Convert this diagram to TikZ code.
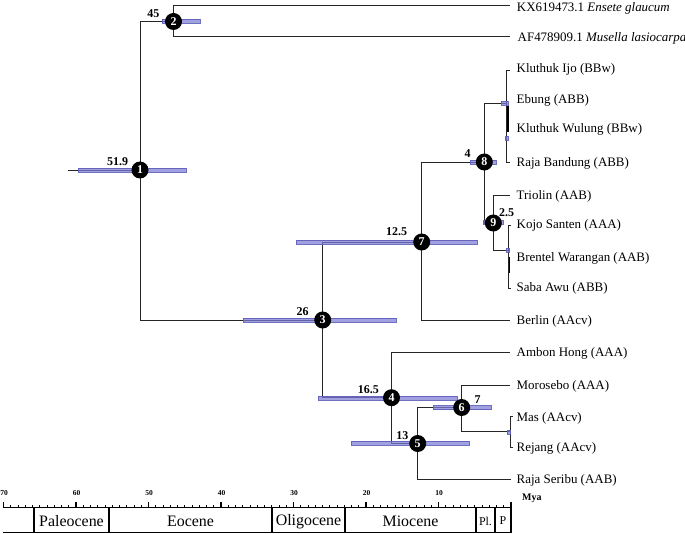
\documentclass[tikz,border=0pt]{standalone}
\usepackage{fontspec}
\setmainfont{Liberation Serif}
\pgfdeclarelayer{bg}
\pgfdeclarelayer{mid}
\pgfsetlayers{bg,mid,main}
\definecolor{hpdfill}{RGB}{125,125,215}
\definecolor{hpdline}{RGB}{95,95,185}
\begin{document}
\begin{tikzpicture}[x=1bp,y=-1bp,
  br/.style={line width=0.8bp, draw=black!85},
  thk/.style={line width=1.6bp, draw=black},
  hpd/.style={fill=hpdfill, draw=hpdline, line width=0.4bp, fill opacity=0.72, draw opacity=0.9},
  nd/.style={circle, fill=black, text=white, inner sep=0pt, minimum size=17bp, font=\fontsize{12}{12}\selectfont\bfseries},
  age/.style={font=\fontsize{12}{12}\selectfont\bfseries, inner sep=0pt},
  tip/.style={anchor=base west, font=\fontsize{13}{13}\selectfont, inner sep=0pt},
  epoch/.style={font=\fontsize{16}{16}\selectfont, inner sep=0pt},
  small/.style={font=\fontsize{12}{12}\selectfont, inner sep=0pt},
  axlab/.style={font=\fontsize{7.5}{7.5}\selectfont\bfseries, inner sep=0pt},
  axis/.style={line width=1.1bp, draw=black}]
\useasboundingbox (0,0) rectangle (685,534);

% ---------- internal nodes ----------
\node[nd] (n1) at (140,170) {1};
\node[nd] (n2) at (173.5,21.5) {2};
\node[nd] (n3) at (322.7,320) {3};
\node[nd] (n4) at (391.5,397.7) {4};
\node[nd] (n5) at (417.7,443.5) {5};
\node[nd] (n6) at (461.7,407.5) {6};
\node[nd] (n7) at (421.7,242) {7};
\node[nd] (n8) at (484.3,162) {8};
\node[nd] (n9) at (493.3,223) {9};

% ---------- ages ----------
\node[age] (a1) at (117.7,161.7) {51.9};
\node[age] (a2) at (153.3,13.3) {45};
\node[age] (a3) at (302.7,311.7) {26};
\node[age] (a7) at (396.7,231.7) {12.5};
\node[age] (a8) at (467.7,154) {4};
\node[age] (a9) at (506.5,212.7) {2.5};
\node[age] (a4) at (368.3,390) {16.5};
\node[age] (a5) at (402.3,436) {13};
\node[age] (a6) at (477.7,400) {7};

% ---------- tips ----------
\coordinate (root) at (68,170);
\coordinate (t1) at (510,5);
\coordinate (t2) at (510,36);
\coordinate (t3) at (510,70);
\coordinate (t6) at (510,162);
\coordinate (t7) at (510,195);
\coordinate (t8) at (511,225);
\coordinate (t10) at (511,288);
\coordinate (t11) at (510,320);
\coordinate (t12) at (510,352.7);
\coordinate (t13) at (510,385);
\coordinate (t14) at (512.5,416.5);
\coordinate (t15) at (512.5,447);
\coordinate (t16) at (511,479);
% polytomy joints
\coordinate (pa) at (506,103.5);
\coordinate (pa1) at (506,70);
\coordinate (pa2) at (506,162);
\coordinate (pa3) at (508,106);
\coordinate (pa4) at (508,132);
\coordinate (pb) at (508.7,250);
\coordinate (pb1) at (508.7,225);
\coordinate (pb2) at (508.7,288);
\coordinate (pb3) at (509.6,257);
\coordinate (pb4) at (509.6,273);
\coordinate (pc) at (510,431.7);
\coordinate (pc1) at (510,416.5);
\coordinate (pc2) at (510,447);

\node[tip] (l1) at (516.7,11.3) {KX619473.1 \textit{Ensete glaucum}};
\node[tip] (l2) at (517.5,41.3) {AF478909.1 \textit{Musella lasiocarpa}};
\node[tip] (l3) at (516.5,72.8) {Kluthuk Ijo (BBw)};
\node[tip] (l4) at (516.5,103.3) {Ebung (ABB)};
\node[tip] (l5) at (516.5,132.8) {Kluthuk Wulung (BBw)};
\node[tip] (l6) at (516.5,166.3) {Raja Bandung (ABB)};
\node[tip] (l7) at (516.5,199.3) {Triolin (AAB)};
\node[tip] (l8) at (516.5,228.8) {Kojo Santen (AAA)};
\node[tip] (l9) at (516.5,261.3) {Brentel Warangan (AAB)};
\node[tip] (l10) at (516.5,291.3) {Saba Awu (ABB)};
\node[tip] (l11) at (516.5,324.8) {Berlin (AAcv)};
\node[tip] (l12) at (516.5,356.8) {Ambon Hong (AAA)};
\node[tip] (l13) at (516.5,389.3) {Morosebo (AAA)};
\node[tip] (l14) at (516.5,421) {Mas (AAcv)};
\node[tip] (l15) at (516.5,451.3) {Rejang (AAcv)};
\node[tip] (l16) at (516.5,483.8) {Raja Seribu (AAB)};

% ---------- branches ----------
\begin{pgfonlayer}{bg}
\draw[br] (root) -- (n1.center);
\draw[br] (n1.center) |- (n2.center);
\draw[br] (n1.center) |- (n3.center);
\draw[br] (n2.center) |- (t1);
\draw[br] (n2.center) |- (t2);
\draw[br] (n3.center) |- (n7.center);
\draw[br] (n3.center) |- (n4.center);
\draw[br] (n7.center) |- (n8.center);
\draw[br] (n7.center) |- (t11);
\draw[br] (n8.center) |- (pa);
\draw[br] (n8.center) |- (n9.center);
\draw[br] (t3) -- (pa1) -- (pa2) -- (t6);
\draw[thk] (pa3) -- (pa4);
\draw[br] (n9.center) |- (t7);
\draw[br] (n9.center) |- (pb);
\draw[br] (t8) -- (pb1) -- (pb2) -- (t10);
\draw[thk] (pb3) -- (pb4);
\draw[br] (n4.center) |- (t12);
\draw[br] (n4.center) |- (n5.center);
\draw[br] (n5.center) |- (n6.center);
\draw[br] (n5.center) |- (t16);
\draw[br] (n6.center) |- (t13);
\draw[br] (n6.center) |- (pc);
\draw[br] (t14) -- (pc1) -- (pc2) -- (t15);
\end{pgfonlayer}

% ---------- HPD bars ----------
\begin{pgfonlayer}{mid}
\draw[hpd] (78,168) rectangle (186,172);
\draw[hpd] (161.7,19.5) rectangle (200,23.5);
\draw[hpd] (242.7,318) rectangle (396,322);
\draw[hpd] (296,240) rectangle (476.7,244);
\draw[hpd] (470,160) rectangle (496,164);
\draw[hpd] (483,220) rectangle (502.7,224);
\draw[hpd] (318.3,395.7) rectangle (456.7,399.7);
\draw[hpd] (350.7,441.3) rectangle (469,445.3);
\draw[hpd] (433.3,405.5) rectangle (490.7,409.5);
\draw[hpd] (501,101.5) rectangle (508,105.5);
\draw[hpd] (505,136) rectangle (508,140);
\draw[hpd] (506,248) rectangle (509.5,252);
\draw[hpd] (507,429.7) rectangle (510.5,433.7);
\end{pgfonlayer}

% ---------- time axis ----------
\coordinate (ax0) at (3,507.5);
\coordinate (ax1) at (511,507.5);
\draw[axis] (ax0) -- (ax1);
\foreach \t in {1,...,69} \draw[line width=0.6bp] ({511-7.25*\t},507.5) -- ++(0,-2.2);
\foreach \t in {10,20,...,70} {
  \draw[axis] ({511-7.25*\t},507.5) -- ++(0,-6);
  \node[axlab] at ({511-7.25*\t+0.5},493.3) {\t};
}
\coordinate (b0) at (3,532.8);
\coordinate (b1) at (511,532.8);
\draw[axis] (b0) -- (b1);
\foreach \x in {34,109,272,345,476,495} \draw[axis] (\x,507.5) -- (\x,532.8);
\draw[axis] (511,501.5) -- (511,533.3);
\node[epoch] (e1) at (71.5,521.5) {Paleocene};
\node[epoch] (e2) at (190.5,521.5) {Eocene};
\node[epoch] (e3) at (308.5,521.5) {Oligocene};
\node[epoch] (e4) at (410.5,521.5) {Miocene};
\node[small] (e5) at (485.5,521) {Pl.};
\node[small] (e6) at (503,521) {P};
\node[font=\fontsize{10}{10}\selectfont\bfseries, inner sep=0pt, anchor=west] (mya) at (522,498) {Mya};
\end{tikzpicture}
\end{document}
